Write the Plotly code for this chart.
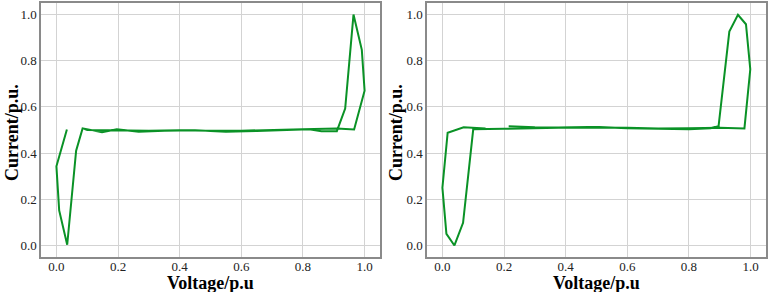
import plotly.graph_objects as go
from plotly.subplots import make_subplots

# Left panel: voltage / current (p.u.)
V1 = [0.034, 0.0, 0.009, 0.035, 0.064, 0.085, 0.148, 0.196, 0.267, 0.35, 0.45, 0.55, 0.65,
      0.75, 0.82, 0.86, 0.91, 0.937, 0.964, 0.991, 1.0, 0.966, 0.91, 0.8, 0.7, 0.6, 0.5,
      0.4, 0.3, 0.2, 0.1, 0.09]
I1 = [0.502, 0.343, 0.152, 0.003, 0.41, 0.507, 0.49, 0.503, 0.492, 0.497, 0.499, 0.492, 0.496,
      0.499, 0.503, 0.495, 0.495, 0.593, 1.0, 0.847, 0.67, 0.502, 0.507, 0.503, 0.499, 0.497, 0.497,
      0.499, 0.497, 0.499, 0.5, 0.505]

# Right panel
V2 = [0.14, 0.069, 0.017, 0.0, 0.013, 0.039, 0.067, 0.1, 0.2, 0.3, 0.4, 0.5, 0.6, 0.7, 0.8,
      0.87, 0.896, 0.931, 0.959, 0.985, 0.999, 0.98, 0.9, 0.8, 0.7, 0.6, 0.5, 0.4, 0.3, 0.215]
I2 = [0.507, 0.512, 0.488, 0.25, 0.05, 0.0, 0.098, 0.503, 0.505, 0.508, 0.509, 0.513, 0.508,
      0.505, 0.503, 0.508, 0.516, 0.926, 0.999, 0.958, 0.763, 0.507, 0.51, 0.508, 0.507, 0.51,
      0.512, 0.511, 0.512, 0.516]

TICKS = [0.0, 0.2, 0.4, 0.6, 0.8, 1.0]
TICK_TEXT = ["0.0", "0.2", "0.4", "0.6", "0.8", "1.0"]
X_TITLE = "Voltage/p.u"
Y_TITLE = "Current/p.u."

FONT = "Liberation Serif"
GREEN = "#0a9226"

fig = make_subplots(rows=1, cols=2)
fig.add_trace(go.Scatter(x=V1, y=I1, mode="lines", line=dict(color=GREEN, width=2),
                         showlegend=False), row=1, col=1)
fig.add_trace(go.Scatter(x=V2, y=I2, mode="lines", line=dict(color=GREEN, width=2),
                         showlegend=False), row=1, col=2)

W, H = 768, 292
axis_common = dict(
    range=[-0.05, 1.05], tickvals=TICKS, ticktext=TICK_TEXT,
    showgrid=True, gridcolor="#d3d3d3", gridwidth=1, zeroline=False,
    showline=True, mirror=True, linecolor="#8a8a8a", linewidth=1.5,
    ticks="", tickfont=dict(family=FONT, size=13, color="#222"),
    automargin=False,
)
title_font = dict(family=FONT, size=18, color="#000", weight="bold")

fig.update_xaxes(**axis_common, ticklabelstandoff=-3)
fig.update_yaxes(**axis_common)

dom1 = [41 / W, 380 / W]
dom2 = [427 / W, 766 / W]
ydom = [1 - 257 / H, 1 - 3 / H]

annotations = []
for dom, ytx in ((dom1, 12), (dom2, 396)):
    annotations.append(dict(
        text=X_TITLE, xref="paper", yref="paper",
        x=(dom[0] + dom[1]) / 2, y=1 - 282.5 / H, xanchor="center", yanchor="middle",
        showarrow=False, font=title_font))
    annotations.append(dict(
        text=Y_TITLE, xref="paper", yref="paper", textangle=-90,
        x=ytx / W, y=1 - 133 / H, xanchor="center", yanchor="middle",
        showarrow=False, font=title_font))

fig.update_layout(
    width=W, height=H, margin=dict(l=0, r=0, t=0, b=0),
    paper_bgcolor="white", plot_bgcolor="white",
    font=dict(family=FONT),
    xaxis=dict(domain=dom1),
    xaxis2=dict(domain=dom2),
    yaxis=dict(domain=ydom),
    yaxis2=dict(domain=ydom),
    annotations=annotations,
)

fig.write_html("out.html", config={"displayModeBar": False},
               post_script="document.body.style.margin='0';")
